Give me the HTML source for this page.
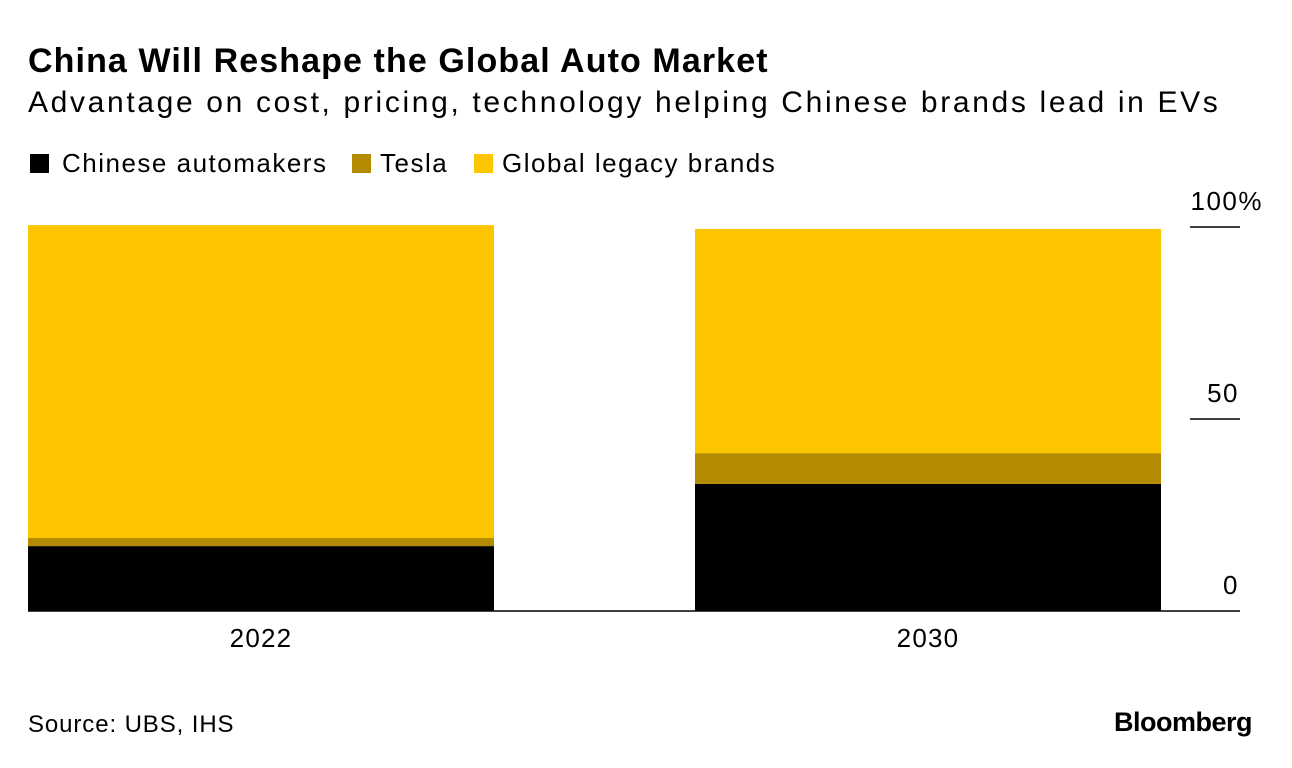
<!DOCTYPE html>
<html><head><meta charset="utf-8"><style>
body{margin:0;background:#fff;font-family:"Liberation Sans",sans-serif;color:#000}
#wrap{position:relative;width:1292px;height:768px;overflow:hidden}
.t{position:absolute;white-space:nowrap}
.sq{position:absolute;width:19px;height:19px;top:154px}
</style></head><body>
<div id="wrap">
<div class="t" style="left:28px;top:42px;font-size:34px;font-weight:bold;letter-spacing:1.1px">China Will Reshape the Global Auto Market</div>
<div class="t" style="left:28px;top:86px;font-size:30px;letter-spacing:2.65px">Advantage on cost, pricing, technology helping Chinese brands lead in EVs</div>
<div>
<div class="sq" style="left:30px;background:#000"></div>
<div class="t" style="left:62px;top:148px;font-size:26px;letter-spacing:1.5px">Chinese automakers</div>
<div class="sq" style="left:352px;background:#b38a00"></div>
<div class="t" style="left:380px;top:148px;font-size:26px;letter-spacing:1.5px">Tesla</div>
<div class="sq" style="left:474px;background:#fdc500"></div>
<div class="t" style="left:502px;top:148px;font-size:26px;letter-spacing:1.5px">Global legacy brands</div>
</div>
<svg id="plot" width="1292" height="768" style="position:absolute;left:0;top:0"></svg>
<div class="t" style="left:28px;top:711px;font-size:24px;letter-spacing:0.9px">Source: UBS, IHS</div>
<div class="t" style="right:40px;top:707px;font-size:27px;font-weight:bold;letter-spacing:-0.5px">Bloomberg</div>
</div>
<script>
const categories=["2022","2030"];
const chinese=[16.9,33.1];
const tesla=[2.1,8.0];
const legacy=[81.5,58.4];
const tickValues=[0,50,100];
const tickLabels=["0","50","100%"];
const svg=document.getElementById('plot');
const NS="http://www.w3.org/2000/svg";
const y0=611,pxPer=3.84;
const y=v=>y0-v*pxPer;
const barX=[28,695],barW=466;
function mk(tag,attrs){const e=document.createElementNS(NS,tag);for(const k in attrs)e.setAttribute(k,attrs[k]);svg.appendChild(e);return e;}
const series=[[chinese,"#000","chinese"],[tesla,"#b38a00","tesla"],[legacy,"#fdc500","legacy"]];
categories.forEach((c,i)=>{
  let base=0;
  series.forEach(([arr,col,nm])=>{
    const r=mk('rect',{x:barX[i],y:y(base+arr[i]),width:barW,height:arr[i]*pxPer,fill:col});
    
    
    base+=arr[i];
  });
  const t=mk('text',{x:barX[i]+barW/2,y:647,'text-anchor':'middle','font-size':26,'letter-spacing':1.2,'font-family':'Liberation Sans'});
  t.textContent=c;
  
  
});
const base=mk('line',{x1:28,x2:1240,y1:y0,y2:y0,stroke:'#000','stroke-width':1.5});


tickValues.forEach((v,i)=>{
  if(v>0){const l=mk('line',{x1:1190,x2:1240,y1:y(v),y2:y(v),stroke:'#000','stroke-width':1.5});
  
  }
  const t=mk('text',{x:i==2?1263:1239,y:y(v)-17,'text-anchor':'end','font-size':26,'letter-spacing':1.5,'font-family':'Liberation Sans'});
  t.textContent=tickLabels[i];
  
  
});
</script>
</body></html>
